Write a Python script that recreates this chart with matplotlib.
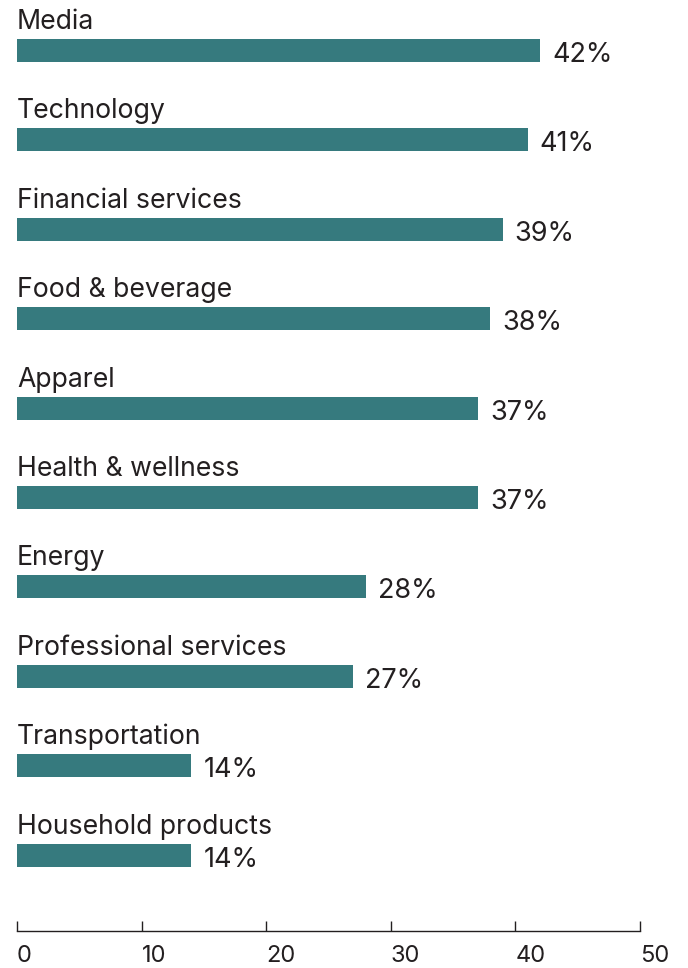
import matplotlib.pyplot as plt

categories = ["Media", "Technology", "Financial services", "Food & beverage",
              "Apparel", "Health & wellness", "Energy", "Professional services",
              "Transportation", "Household products"]
values = [42, 41, 39, 38, 37, 37, 28, 27, 14, 14]
xticks = [0, 10, 20, 30, 40, 50]

bar_color = "#367a7e"
text_color = "#231f20"
plt.rcParams["font.family"] = ["Inter", "DejaVu Sans"]

W, H = 688, 968
fig = plt.figure(figsize=(W / 100, H / 100), dpi=100)
ax = fig.add_axes([17 / W, (H - 931) / H, 623 / W, 931 / H])

pos = list(range(len(categories)))
ax.barh(pos, values, height=0.257, color=bar_color, left=0)

for i, (name, v) in enumerate(zip(categories, values)):
    ax.text(0, i - 0.24, name, ha="left", va="baseline", fontsize=19.2,
            color=text_color)
    ax.annotate(f"{v}%", xy=(v, i + 0.128), xytext=(8.5, 0),
                textcoords="offset points", ha="left", va="baseline",
                fontsize=19.5, color=text_color)

ax.set_xlim(0, 50)
ax.set_ylim(9.849, -0.565)
ax.set_xticks(xticks)
ax.set_xticklabels([str(t) for t in xticks], ha="left")
ax.tick_params(axis="x", direction="in", length=7.5, width=1, color=text_color,
               labelsize=17, labelcolor=text_color, pad=10)
ax.set_yticks([])
for side in ["top", "right", "left"]:
    ax.spines[side].set_visible(False)
ax.spines["bottom"].set_color(text_color)
ax.spines["bottom"].set_linewidth(1)

fig.savefig("out.png", dpi=100)
